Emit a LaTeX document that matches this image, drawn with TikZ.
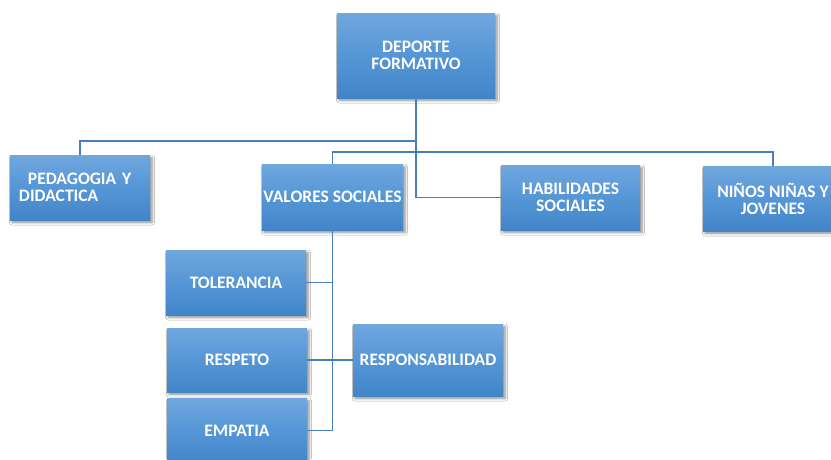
\documentclass[tikz,border=0pt]{standalone}
\usepackage{fontspec}
\setmainfont{Carlito}
\usetikzlibrary{shadows.blur}
\definecolor{boxtop}{RGB}{112,167,222}
\definecolor{boxmid}{RGB}{85,150,214}
\definecolor{boxbot}{RGB}{66,133,199}
\definecolor{linkc}{RGB}{74,126,187}
\tikzset{
  box/.style={rectangle, inner sep=0pt, align=center, text=white,
    font=\fontsize{17.5}{17}\selectfont\bfseries,
    top color=boxtop, bottom color=boxbot, middle color=boxmid,
    blur shadow={shadow xshift=2pt, shadow yshift=-2.5pt, shadow blur radius=2.5pt, shadow blur steps=6, shadow opacity=45}},
  link/.style={draw=linkc, line width=1.6pt}
}
\begin{document}
\begin{tikzpicture}[x=1pt,y=-1pt]
\useasboundingbox (0,0) rectangle (831,459);
\clip (0,0) rectangle (831,459);
\fill[white] (0,0) rectangle (831,459);
% nodes
\node[box, minimum width=158pt, minimum height=85pt] (dep) at (416,55.5) {DEPORTE\\FORMATIVO};
\node[box, minimum width=140pt, minimum height=65pt, text width=122pt, align=left] (ped) at (80,187.5) {\hspace{9pt}PEDAGOGIA Y\\DIDACTICA};
\node[box, minimum width=141pt, minimum height=66pt] (val) at (332.5,197) {VALORES SOCIALES};
\node[box, minimum width=139pt, minimum height=65pt] (hab) at (570.5,197.5) {HABILIDADES\\SOCIALES};
\node[box, minimum width=140pt, minimum height=65pt] (nin) at (773,198.5) {NIÑOS NIÑAS Y\\JOVENES};
\node[box, minimum width=140pt, minimum height=65pt] (tol) at (236,282.5) {TOLERANCIA};
\node[box, minimum width=140pt, minimum height=64pt] (res) at (237,360) {RESPETO};
\node[box, minimum width=150pt, minimum height=72pt] (rsp) at (428,360) {RESPONSABILIDAD};
\node[box, minimum width=140pt, minimum height=65pt] (emp) at (237,430.5) {EMPATIA};
% junctions
\coordinate (j1) at (416,141);
\coordinate (j2) at (416,152);
% connectors
\draw[link] (dep.south) -- (j1) -| (ped.north);
\draw[link] (j1) |- (hab.west);
\draw[link] (val.north) -- (val.north |- j2) -- (nin.north |- j2) -- (nin.north);
\draw[link] (val.south) -- (val.south |- emp.east) -- (emp.east);
\draw[link] (tol.east) -- (tol.east -| val.south);
\draw[link] (res.east) -- (rsp.west);
\end{tikzpicture}
\end{document}
